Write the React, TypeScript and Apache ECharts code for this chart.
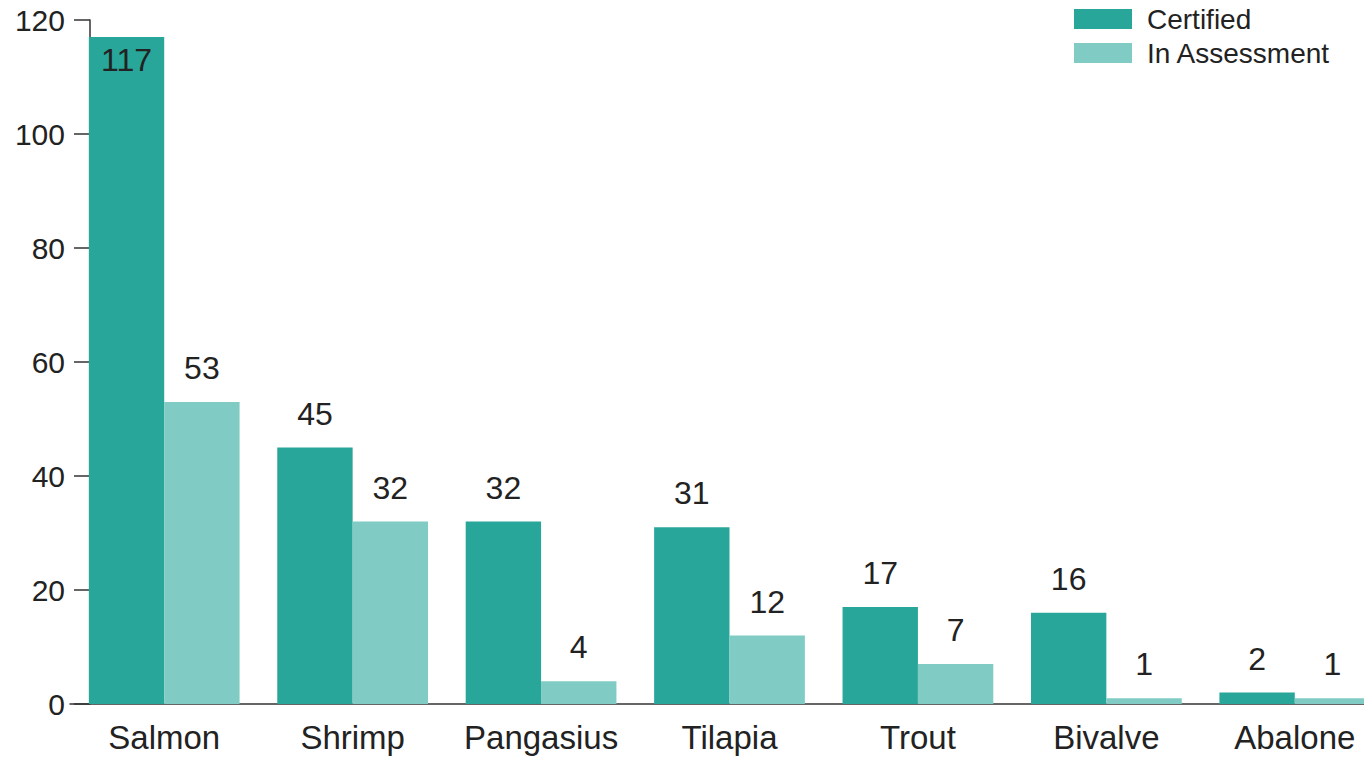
import React, { useEffect, useRef } from "react";
import * as echarts from "echarts";

const categories = ["Salmon", "Shrimp", "Pangasius", "Tilapia", "Trout", "Bivalve", "Abalone"];
const certified = [117, 45, 32, 31, 17, 16, 2];
const inAssessment = [53, 32, 4, 12, 7, 1, 1];
const yTicks = { min: 0, max: 120, interval: 20 };

const FONT = "'Liberation Sans', Arial, sans-serif";
const TEXT = "#222";

export default function App() {
  const ref = useRef<HTMLDivElement>(null);
  useEffect(() => {
    if (!ref.current) return;
    const chart = echarts.init(ref.current, undefined, { renderer: "svg" });
    const labelStyle = {
      show: true,
      position: "top",
      distance: 18,
      color: TEXT,
      fontSize: 32,
      fontFamily: FONT,
    };
    chart.setOption({
      animation: false,
      backgroundColor: "#fff",
      textStyle: { fontFamily: FONT },
      legend: {
        orient: "vertical",
        left: 1074,
        top: 5,
        padding: 0,
        itemWidth: 58,
        itemHeight: 20,
        itemGap: 6,
        icon: "rect",
        textStyle: { fontSize: 28, color: TEXT, fontFamily: FONT, padding: [0, 0, 0, 10] },
        data: ["Certified", "In Assessment"],
      },
      grid: { left: 70, top: 20, width: 1319, height: 684 },
      xAxis: {
        type: "category",
        data: categories,
        axisLine: { lineStyle: { color: "#333", width: 1.5 } },
        axisTick: { alignWithLabel: true, interval: 0, length: 8, lineStyle: { color: "#333", width: 1.5 } },
        axisLabel: { interval: 0, hideOverlap: false, fontSize: 33, color: TEXT, fontFamily: FONT, margin: 17 },
      },
      yAxis: {
        type: "value",
        min: yTicks.min,
        max: yTicks.max,
        interval: yTicks.interval,
        offset: -20,
        splitLine: { show: false },
        axisLine: { show: true, lineStyle: { color: "#333", width: 1.5 } },
        axisTick: { show: true, length: 16, lineStyle: { color: "#333", width: 1.5 } },
        axisLabel: { fontSize: 30, color: TEXT, fontFamily: FONT, margin: 25 },
      },
      series: [
        {
          name: "Certified",
          type: "bar",
          barGap: "0%",
          barCategoryGap: "20%",
          itemStyle: { color: "#28a699" },
          label: labelStyle,
          data: certified.map((v, i) =>
            i === 0
              ? { value: v, label: { position: "insideTop", distance: 7 } }
              : v
          ),
        },
        {
          name: "In Assessment",
          type: "bar",
          barGap: "0%",
          barCategoryGap: "20%",
          itemStyle: { color: "#80cbc4" },
          label: labelStyle,
          data: inAssessment,
        },
      ],
    });
    return () => chart.dispose();
  }, []);
  return (
    <div style={{ position: "fixed", left: 0, top: 0, width: 1364, height: 758, overflow: "hidden", background: "#fff" }}>
      <div ref={ref} style={{ width: 1400, height: 758 }} />
    </div>
  );
}
